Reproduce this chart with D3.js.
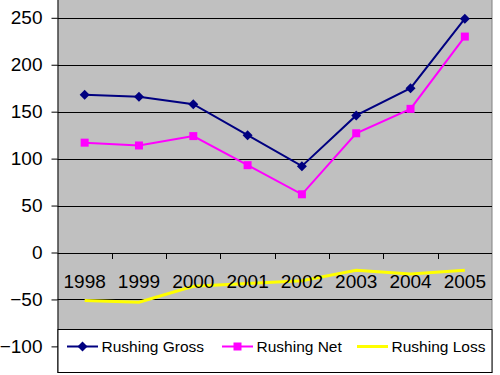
<!DOCTYPE html>
<html>
<head>
<meta charset="utf-8">
<script src="https://cdn.jsdelivr.net/npm/d3@7"></script>
<style>
  body { margin: 0; background: #fff; }
  text { font-family: Arial, "Liberation Sans", sans-serif; }
</style>
</head>
<body>
<svg width="500" height="375"></svg>
<script>
(function (d3) {
  'use strict';

  // data
  const years = ['1998', '1999', '2000', '2001', '2002', '2003', '2004', '2005'];
  const rushingGross = [168, 166, 158, 125, 92, 146, 175, 249];
  const rushingNet = [117, 114, 124, 93, 62, 127, 153, 230];
  const rushingLoss = [-51, -53, -36, -33, -30, -19, -23, -19];
  const yTicks = [-100, -50, 0, 50, 100, 150, 200, 250];
  const seriesNames = ['Rushing Gross', 'Rushing Net', 'Rushing Loss'];

  const svg = d3.select('svg');

  const plot = { left: 57.5, right: 492, top: 0, bottom: 373 };

  const xScale = d3.scaleBand()
    .domain(years)
    .range([plot.left, plot.right]);

  const yScale = d3.scaleLinear()
    .domain([0, 250])
    .range([252.5, 17.8]);

  // plot background
  svg.append('rect')
    .attr('x', plot.left)
    .attr('y', plot.top)
    .attr('width', plot.right - plot.left)
    .attr('height', plot.bottom - plot.top)
    .attr('fill', '#c0c0c0');

  svg.append('line')
    .attr('x1', plot.right).attr('x2', plot.right)
    .attr('y1', plot.top).attr('y2', plot.bottom)
    .attr('stroke', '#808080');

  // y axis with gridlines
  const yAxis = d3.axisLeft(yScale)
    .tickValues(yTicks)
    .tickSize(6)
    .tickPadding(9);

  svg.append('g')
    .attr('class', 'grid')
    .selectAll('line')
    .data(yTicks)
    .join('line')
      .attr('x1', plot.left)
      .attr('x2', plot.right)
      .attr('y1', d => Math.round(yScale(d)) + 0.5)
      .attr('y2', d => Math.round(yScale(d)) + 0.5)
      .attr('stroke', '#000');

  const yAxisG = svg.append('g')
    .attr('transform', `translate(${plot.left},0)`)
    .call(yAxis);
  yAxisG.select('.domain')
    .attr('d', `M0.5,${plot.top}V${plot.bottom}`)
    .attr('stroke', '#000');
  yAxisG.selectAll('.tick line').attr('stroke', '#000');
  yAxisG.selectAll('text')
    .attr('font-size', 19)
    .attr('fill', '#000');

  // category tick marks on the zero line
  const bounds = years.map(d => xScale(d) + xScale.bandwidth());
  svg.append('g')
    .selectAll('line')
    .data(bounds.slice(0, -1))
    .join('line')
      .attr('x1', d => Math.round(d) + 0.5)
      .attr('x2', d => Math.round(d) + 0.5)
      .attr('y1', Math.round(yScale(0)))
      .attr('y2', Math.round(yScale(0)) + 6)
      .attr('stroke', '#000');

  const cx = d => xScale(d) + xScale.bandwidth() / 2;

  const lineGen = d3.line()
    .x(d => cx(d.year))
    .y(d => yScale(d.value));

  const toPoints = values => years.map((year, i) => ({ year, value: values[i] }));

  // loss line (under the year labels)
  svg.append('path')
    .attr('d', lineGen(toPoints(rushingLoss)))
    .attr('fill', 'none')
    .attr('stroke', '#ffff00')
    .attr('stroke-width', 3);

  // year labels sit just below the zero line
  svg.append('g')
    .selectAll('text')
    .data(years)
    .join('text')
      .attr('x', d => cx(d))
      .attr('y', 288)
      .attr('text-anchor', 'middle')
      .attr('font-size', 19)
      .attr('fill', '#000')
      .text(d => d);

  svg.append('path')
    .attr('d', lineGen(toPoints(rushingNet)))
    .attr('fill', 'none')
    .attr('stroke', '#ff00ff')
    .attr('stroke-width', 2);

  svg.append('path')
    .attr('d', lineGen(toPoints(rushingGross)))
    .attr('fill', 'none')
    .attr('stroke', '#000080')
    .attr('stroke-width', 2);

  const diamond = 'M0,-5L5,0L0,5L-5,0Z';

  svg.append('g')
    .selectAll('rect')
    .data(toPoints(rushingNet))
    .join('rect')
      .attr('x', d => cx(d.year) - 4)
      .attr('y', d => yScale(d.value) - 4)
      .attr('width', 8)
      .attr('height', 8)
      .attr('fill', '#ff00ff');

  svg.append('g')
    .selectAll('path')
    .data(toPoints(rushingGross))
    .join('path')
      .attr('transform', d => `translate(${cx(d.year)},${yScale(d.value)})`)
      .attr('d', diamond)
      .attr('fill', '#000080');

  // legend
  const legend = svg.append('g');
  legend.append('rect')
    .attr('x', plot.left + 0.5)
    .attr('y', 329.5)
    .attr('width', plot.right - plot.left - 0.5)
    .attr('height', 43)
    .attr('fill', '#fff')
    .attr('stroke', '#000');

  const legendX = [67, 222, 357];
  const legendColors = ['#000080', '#ff00ff', '#ffff00'];
  const legendY = 346.5;

  seriesNames.forEach((name, i) => {
    const g = legend.append('g').attr('transform', `translate(${legendX[i]},${legendY})`);
    g.append('line')
      .attr('x1', 0).attr('x2', 31)
      .attr('stroke', legendColors[i])
      .attr('stroke-width', i === 2 ? 3 : 2);
    if (i === 0) {
      g.append('path').attr('transform', 'translate(15.5,0)').attr('d', diamond).attr('fill', legendColors[i]);
    } else if (i === 1) {
      g.append('rect').attr('x', 11.5).attr('y', -4).attr('width', 8).attr('height', 8).attr('fill', legendColors[i]);
    }
    g.append('text')
      .attr('x', 34.5)
      .attr('dy', '0.36em')
      .attr('font-size', 15.5)
      .attr('fill', '#000')
      .text(name);
  });

}(d3));
</script>
</body>
</html>
